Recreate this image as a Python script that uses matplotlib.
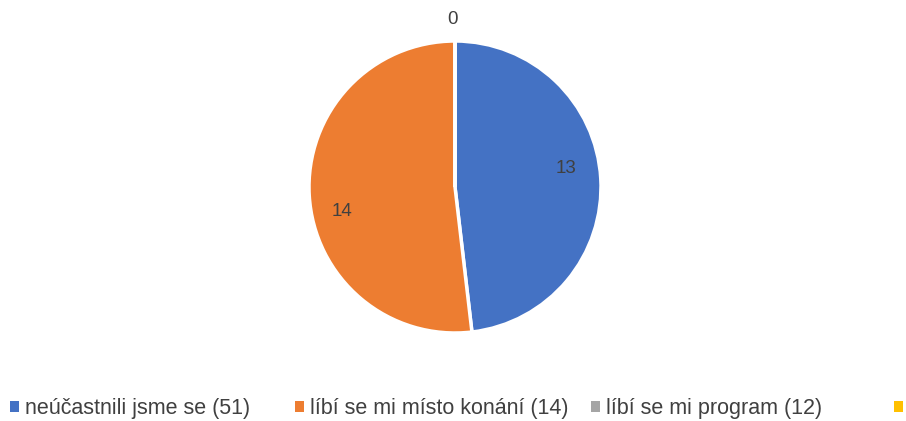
import numpy as np
import matplotlib.pyplot as plt
from matplotlib.patches import Patch

# data
labels = ["neúčastnili jsme se (51)", "líbí se mi místo konání (14)",
          "líbí se mi program (12)", ""]
values = [13, 14, 0, 0]
colors = ["#4472C4", "#ED7D31", "#A5A5A5", "#FFC000"]
val_text = ["13", "14", "0", ""]

fig = plt.figure(figsize=(9.06, 4.21), dpi=100)
r_px = 146
cx, cy = 455, 421 - 187
ax = fig.add_axes([(cx - r_px) / 906, (cy - r_px) / 421, 2 * r_px / 906, 2 * r_px / 421])

wedges, texts = ax.pie(values, colors=colors, startangle=90, counterclock=False,
                       wedgeprops=dict(edgecolor="white", linewidth=2.5))
# data labels, placed roughly like excel's best fit
shift = [6, 9, 1, 0]
dist = [0.77, 0.79, 1.15, 1.14]
for w, t, s, d in zip(wedges, val_text, shift, dist):
    if not t:
        continue
    a = np.deg2rad((w.theta1 + w.theta2) / 2 + s)
    ax.text(d * np.cos(a), d * np.sin(a), t, ha="center", va="center",
            color="#404040", fontsize=13.5, family="Liberation Sans")
ax.set_xlim(-1, 1)
ax.set_ylim(-1, 1)
ax.axis("off")

# legend entries one by one, spaced like the excel legend
leg_x = [10, 295, 591, 894]
for c, l, x in zip(colors, labels, leg_x):
    fig.legend([Patch(facecolor=c, edgecolor="none")], [l], loc="lower left",
               bbox_to_anchor=(x / 906, 0.004), frameon=False, borderpad=0,
               borderaxespad=0, handlelength=0.4, handleheight=0.4, handletextpad=0.3,
               prop=dict(family="Liberation Sans", size=15.5), labelcolor="#404040")

plt.savefig("out.png", dpi=100)
